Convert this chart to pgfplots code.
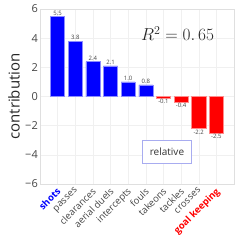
\documentclass[border=0pt]{standalone}
\usepackage{pgfplots}
\pgfplotsset{compat=1.18}
\usepackage{fontspec}
\setmainfont{Open Sans}
\definecolor{tickgray}{HTML}{444444}
\definecolor{boxblue}{HTML}{A8ACF0}
\begin{document}
\begin{tikzpicture}
\path[use as bounding box] (-40pt,-56pt) rectangle (200pt,184pt);
\begin{axis}[
 scale only axis, width=194pt, height=175pt,
 xmin=-1, xmax=10, ymin=-6, ymax=6,
 ytick={-6,-4,-2,0,2,4,6},
 yticklabels={−6,−4,−2,0,2,4,6},
 xtick={0,...,9},
 xticklabels={\textcolor{blue}{\textbf{shots}},passes,clearances,aerial duels,intercepts,fouls,takeons,tackles,crosses,\textcolor{red}{\textbf{goal keeping}}},
 x tick label style={rotate=45, anchor=north east, font=\fontsize{9.5}{10}\selectfont, text=tickgray, inner sep=1pt, xshift=-2pt},
 y tick label style={font=\fontsize{11}{12}\selectfont, text=tickgray, inner sep=2pt},
 ylabel={contribution}, ylabel style={font=\fontsize{15}{18}\selectfont, text=black!85},
 grid=major, major grid style={gray!12},
 axis line style={gray!25},
 major tick length=0pt,
 ybar, bar width=0.8, bar shift=0,
 nodes near coords style={font=\fontsize{6}{7}\selectfont, text=tickgray, inner sep=1pt},
 /pgf/number format/fixed, /pgf/number format/precision=1, /pgf/number format/fixed zerofill, /pgf/number format/assume math mode=true,
]
\addplot[fill=blue, draw=blue!45, line width=0.4pt, nodes near coords] coordinates {(0,5.5) (1,3.8) (2,2.4) (3,2.1) (4,1.0) (5,0.8)};
\addplot[fill=red, draw=red!45, line width=0.4pt, nodes near coords, every node near coord/.append style={anchor=north}] coordinates {(6,-0.1) (7,-0.4) (8,-2.2) (9,-2.5)};
\node[font=\fontsize{16.5}{18}\selectfont, text=black!85] at (axis cs:6.8,4.3) {$R^2=0.\,65$};
\node[draw=boxblue, fill=white, font=\fontsize{10}{12}\selectfont, text=black!80, minimum width=49pt, minimum height=23pt, inner sep=2pt] at (axis cs:6.2,-3.8) {relative};
\end{axis}
\end{tikzpicture}
\end{document}
